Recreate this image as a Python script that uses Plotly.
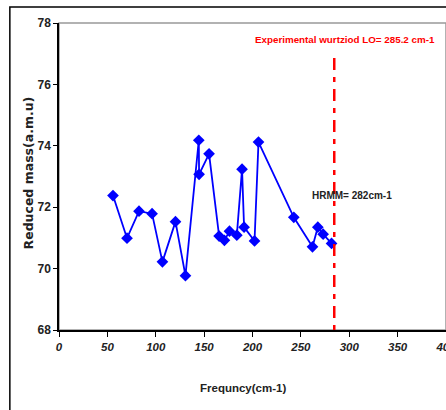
import plotly.graph_objects as go

freq = [55.8, 70.3, 82.7, 96.2, 106.9, 120.4, 130.7, 144.5, 144.8, 155.1,
        165.5, 171.0, 176.2, 183.8, 189.2, 191.3, 202.1, 206.2, 242.7, 262.0,
        267.5, 273.0, 281.7]
mass = [72.38, 70.99, 71.87, 71.79, 70.22, 71.53, 69.77, 74.18, 73.07, 73.74,
        71.06, 70.92, 71.22, 71.09, 73.24, 71.35, 70.90, 74.12, 71.67, 70.71,
        71.35, 71.12, 70.82]
lo_freq = 284.5
lo_y = [68, 77.0]
xticks = [0, 50, 100, 150, 200, 250, 300, 350, 400]
yticks = [68, 70, 72, 74, 76, 78]

font = "Liberation Sans, Arial"

fig = go.Figure()
fig.add_trace(go.Scatter(
    x=freq, y=mass, mode="lines+markers",
    line=dict(color="#0000FF", width=1.8),
    marker=dict(symbol="diamond", size=9, color="#0000FF"),
    showlegend=False, cliponaxis=False))
fig.add_trace(go.Scatter(
    x=[lo_freq, lo_freq], y=lo_y, mode="lines",
    line=dict(color="#FF0000", width=2.5, dash="5px,7px,12px,7px"),
    showlegend=False))

fig.add_annotation(x=295.5, y=77.46, text="<b>Experimental wurtziod LO= 285.2 cm-1</b>",
                   showarrow=False, font=dict(family=font, size=9.8, color="#FF0000"))
fig.add_annotation(x=303.2, y=72.37, text="<b>HRMM= 282cm-1</b>",
                   showarrow=False, font=dict(family=font, size=10, color="#222222"))
fig.add_annotation(xref="paper", yref="paper", x=-0.080, y=0.51,
                   xanchor="center", yanchor="middle",
                   text="<b>Reduced mass(a.m.u)</b>", textangle=-90, showarrow=False,
                   font=dict(family="DejaVu Sans", size=12.5, color="#222222"))
fig.add_annotation(xref="paper", yref="paper", x=0.4745, y=-0.19,
                   xanchor="center", yanchor="middle",
                   text="<b>Frequncy(cm-1)</b>", showarrow=False,
                   font=dict(family=font, size=11.5, color="#222222"))

# plot area grey frame
fig.add_shape(type="rect", xref="paper", yref="paper", x0=0, y0=0, x1=1, y1=1,
              line=dict(color="#999999", width=1.5), layer="below")
# outer chart border
fig.add_shape(type="rect", xref="paper", yref="paper", x0=-0.127, y0=-0.3, x1=1.05, y1=1.052,
              line=dict(color="black", width=1.5), layer="below")

fig.update_layout(
    width=446, height=410,
    margin=dict(l=59.3, r=0, t=22.7, b=79.7, autoexpand=False),
    plot_bgcolor="white", paper_bgcolor="white",
    xaxis=dict(range=[0, 400], tickvals=xticks, showgrid=False, zeroline=False,
               showline=True, linecolor="black", linewidth=1.5, automargin=False,
               ticks="outside", ticklen=5, tickcolor="black", ticklabeloverflow="allow",
               tickfont=dict(family=font, size=11.5, color="#222222", style="italic", weight="bold")),
    yaxis=dict(range=[68, 78], tickvals=yticks, showgrid=False, zeroline=False,
               showline=True, linecolor="black", linewidth=1.5, automargin=False,
               ticks="outside", ticklen=4, tickcolor="black",
               tickfont=dict(family=font, size=12, color="#222222", weight="bold")),
)

fig.write_html("out.html", config={"displayModeBar": False},
               post_script="document.body.style.margin='0';document.body.style.overflow='hidden';")
